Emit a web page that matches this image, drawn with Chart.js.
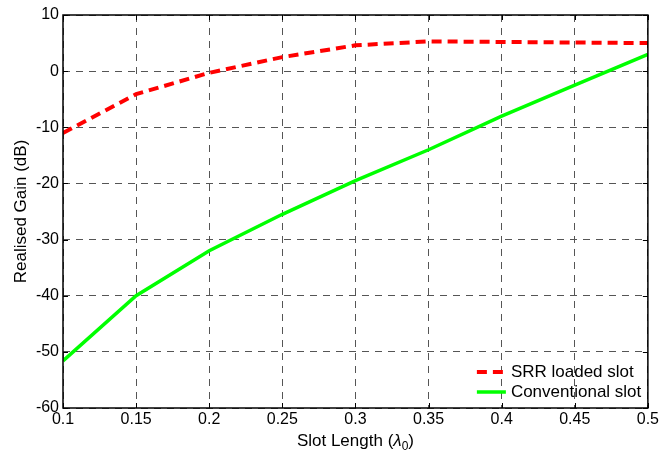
<!DOCTYPE html>
<html>
<head>
<meta charset="utf-8">
<script src="https://cdn.jsdelivr.net/npm/chart.js@4/dist/chart.umd.min.js"></script>
<style>
  html, body { margin: 0; padding: 0; background: #fff; }
  #wrap { width: 661px; height: 450px; }
</style>
</head>
<body>
<div id="wrap"><canvas id="c" width="661" height="450"></canvas></div>
<script>
// data
const slotLength = [0.1, 0.15, 0.2, 0.25, 0.3, 0.35, 0.4, 0.45, 0.5];
const srrGain = [-11, -4.1, -0.3, 2.5, 4.6, 5.3, 5.2, 5.1, 5.0];
const convGain = [-51.6, -40, -32, -25.5, -19.5, -14, -8, -2.5, 3];
const xTicks = [0.1, 0.15, 0.2, 0.25, 0.3, 0.35, 0.4, 0.45, 0.5];
const yTicks = [-60, -50, -40, -30, -20, -10, 0, 10];

const FONT = "'Liberation Sans', Arial, sans-serif";

// frame, inward ticks, x title with subscript, legend in lower right
const framePlugin = {
  id: 'frame',
  afterDraw(chart) {
    const ctx = chart.ctx, a = chart.chartArea;
    const xs = chart.scales.x, ys = chart.scales.y;
    ctx.save();
    ctx.strokeStyle = '#000';
    ctx.lineWidth = 1.5;
    ctx.setLineDash([]);
    ctx.strokeRect(a.left, a.top, a.right - a.left, a.bottom - a.top);

    ctx.lineWidth = 1;
    ctx.beginPath();
    xs.ticks.forEach(t => {
      const px = Math.round(xs.getPixelForValue(t.value)) + 0.5;
      ctx.moveTo(px, a.bottom); ctx.lineTo(px, a.bottom - 5);
      ctx.moveTo(px, a.top); ctx.lineTo(px, a.top + 5);
    });
    ys.ticks.forEach(t => {
      const py = Math.round(ys.getPixelForValue(t.value)) + 0.5;
      ctx.moveTo(a.left, py); ctx.lineTo(a.left + 5, py);
      ctx.moveTo(a.right, py); ctx.lineTo(a.right - 5, py);
    });
    ctx.stroke();

    // x axis title: Slot Length (λ0)
    ctx.fillStyle = '#000';
    ctx.textBaseline = 'alphabetic';
    ctx.textAlign = 'left';
    const f = '17px ' + FONT;
    const fi = 'italic 17px ' + FONT;
    const fs = '12px ' + FONT;
    const parts = [['Slot Length (', f, 0], ['λ', fi, 0], ['0', fs, 4], [')', f, 0]];
    let w = 0;
    parts.forEach(p => { ctx.font = p[1]; w += ctx.measureText(p[0]).width; });
    let x = (a.left + a.right) / 2 - w / 2;
    const base = 446;
    parts.forEach(p => {
      ctx.font = p[1];
      ctx.fillText(p[0], x, base + p[2]);
      x += ctx.measureText(p[0]).width;
    });

    // legend
    ctx.font = '17px ' + FONT;
    ctx.textBaseline = 'middle';
    chart.data.datasets.forEach((ds, i) => {
      const y = a.bottom - 36 + i * 20;
      const x0 = a.right - 171;
      ctx.strokeStyle = ds.borderColor;
      ctx.lineWidth = ds.borderWidth;
      ctx.setLineDash(ds.borderDash || []);
      ctx.beginPath();
      ctx.moveTo(x0, y);
      ctx.lineTo(x0 + 29, y);
      ctx.stroke();
      ctx.setLineDash([]);
      ctx.fillText(ds.label, x0 + 34, y);
    });
    ctx.restore();
  }
};

new Chart(document.getElementById('c'), {
  type: 'line',
  data: {
    datasets: [
      {
        label: 'SRR loaded slot',
        data: slotLength.map((x, i) => ({x: x, y: srrGain[i]})),
        borderColor: '#ff0000',
        borderWidth: 4,
        borderDash: [10, 6],
        pointRadius: 0,
        tension: 0
      },
      {
        label: 'Conventional slot',
        data: slotLength.map((x, i) => ({x: x, y: convGain[i]})),
        borderColor: '#00ff00',
        borderWidth: 3.5,
        pointRadius: 0,
        tension: 0
      }
    ]
  },
  options: {
    responsive: false,
    animation: false,
    layout: { padding: { top: 15, right: 11, left: 0, bottom: 0 } },
    plugins: { legend: { display: false }, tooltip: { enabled: false } },
    scales: {
      x: {
        type: 'linear',
        min: 0.1, max: 0.5,
        afterBuildTicks: s => { s.ticks = xTicks.map(v => ({value: v})); },
        afterFit: s => { s.height = 42; },
        ticks: { color: '#000', font: { family: FONT, size: 16 }, padding: 2, maxRotation: 0,
                 callback: v => String(v) },
        grid: { color: '#555', drawTicks: false, lineWidth: 1 },
        border: { display: false, dash: [7, 6] },
        title: { display: false }
      },
      y: {
        type: 'linear',
        min: -60, max: 10,
        afterBuildTicks: s => { s.ticks = yTicks.map(v => ({value: v})); },
        afterFit: s => { s.width = 63; },
        ticks: { color: '#000', font: { family: FONT, size: 16 }, padding: 4 },
        grid: { color: '#555', drawTicks: false, lineWidth: 1 },
        border: { display: false, dash: [7, 6] },
        title: { display: true, text: 'Realised Gain (dB)', color: '#000',
                 font: { family: FONT, size: 17 }, padding: { top: 11, bottom: 0 } }
      }
    }
  },
  plugins: [framePlugin]
});
</script>
</body>
</html>
